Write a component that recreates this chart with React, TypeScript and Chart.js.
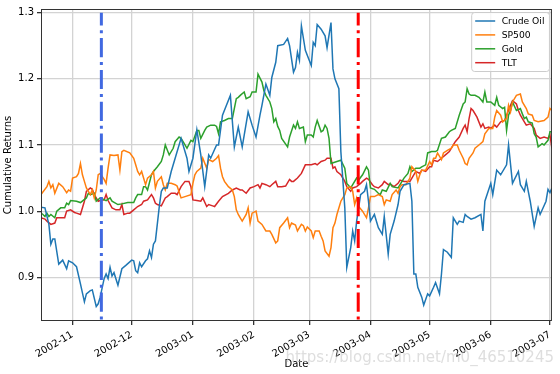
import React, { useEffect, useRef } from "react";
import { Chart, registerables } from "chart.js";

Chart.register(...registerables);

// x values are day offsets from 2002-11-01
const seriesNames = ["Crude Oil", "SP500", "Gold", "TLT"];
const seriesColors = ["#1f77b4", "#ff7f0e", "#2ca02c", "#d62728"];

const crudeOil: [number, number][] = [
  [-16,1.006],[-14,1.005],[-12,0.980],[-11,0.950],[-10,0.958],[-9,0.958],[-7,0.920],[-6,0.923],[-5,0.926],[-3,0.913],[-2,0.925],[0,0.922],[2,0.916],[4,0.890],[6,0.863],[7,0.875],[9,0.880],[10,0.881],[12,0.856],[13,0.860],[14,0.870],[16,0.898],[17,0.905],[18,0.898],[19,0.915],[20,0.902],[21,0.907],[23,0.888],[25,0.913],[27,0.918],[30,0.926],[31,0.925],[32,0.910],[33,0.907],[34,0.922],[35,0.916],[37,0.925],[38,0.928],[39,0.940],[40,0.930],[41,0.950],[42,0.955],[44,1.008],[45,1.030],[46,1.035],[48,1.035],[50,1.060],[52,1.080],[55,1.110],[58,1.080],[59,1.060],[61,1.080],[63,1.123],[65,1.085],[67,1.037],[69,1.085],[70,1.080],[73,1.100],[74,1.100],[76,1.145],[78,1.160],[80,1.175],[82,1.097],[84,1.127],[86,1.097],[89,1.150],[91,1.130],[93,1.112],[95,1.145],[96,1.160],[98,1.192],[100,1.175],[101,1.202],[103,1.225],[104,1.250],[107,1.252],[109,1.261],[110,1.250],[112,1.210],[113,1.217],[114,1.240],[115,1.228],[116,1.280],[118,1.243],[121,1.220],[122,1.255],[123,1.250],[124,1.282],[126,1.275],[128,1.265],[129,1.247],[131,1.285],[132,1.215],[133,1.200],[135,1.185],[136,1.090],[138,1.005],[139,0.915],[141,0.945],[142,0.970],[143,0.955],[144,0.985],[146,1.025],[148,1.030],[149,1.040],[150,1.015],[151,0.985],[153,0.995],[155,0.975],[157,0.965],[158,0.992],[160,0.935],[161,0.965],[163,0.985],[165,1.010],[166,1.030],[168,1.040],[171,1.042],[172,1.015],[173,0.905],[174,0.905],[175,0.885],[177,0.870],[178,0.858],[180,0.875],[181,0.872],[183,0.885],[184,0.892],[186,0.875],[187,0.905],[188,0.942],[190,0.938],[192,0.930],[193,0.990],[195,0.980],[196,0.985],[198,0.983],[199,0.995],[200,0.992],[202,0.988],[204,0.990],[207,0.995],[208,0.970],[209,1.015],[212,1.042],[213,1.025],[215,1.062],[217,1.055],[220,1.070],[221,1.100],[223,1.042],[226,1.060],[227,1.040],[229,1.030],[230,1.045],[232,1.015],[234,0.977],[236,1.005],[237,0.995],[240,1.015],[241,1.033],[242,1.028],[243,1.035]
];

const sp500: [number, number][] = [
  [-16,1.025],[-13,1.037],[-12,1.045],[-11,1.035],[-10,1.040],[-9,1.027],[-7,1.042],[-5,1.037],[-3,1.028],[-2,1.032],[-1,1.030],[0,1.050],[2,1.052],[3,1.057],[4,1.072],[5,1.055],[6,1.045],[7,1.035],[9,1.025],[10,1.032],[11,1.020],[12,1.032],[13,1.055],[14,1.057],[16,1.048],[17,1.042],[18,1.065],[19,1.085],[21,1.084],[23,1.085],[24,1.062],[25,1.090],[26,1.092],[29,1.088],[31,1.080],[32,1.070],[33,1.060],[34,1.055],[35,1.060],[36,1.050],[37,1.040],[38,1.050],[40,1.055],[41,1.060],[42,1.035],[43,1.045],[45,1.052],[46,1.040],[47,1.032],[48,1.042],[50,1.042],[52,1.040],[53,1.038],[55,1.020],[57,1.022],[60,1.025],[61,1.042],[62,1.055],[63,1.060],[65,1.065],[66,1.080],[68,1.065],[69,1.078],[71,1.075],[73,1.080],[74,1.084],[75,1.065],[76,1.052],[77,1.045],[79,1.037],[81,1.032],[82,1.022],[83,1.002],[84,0.995],[85,0.990],[86,0.985],[88,0.995],[89,1.005],[90,0.982],[91,0.997],[93,1.000],[94,0.985],[96,0.980],[98,0.970],[100,0.970],[101,0.965],[103,0.952],[104,0.955],[105,0.975],[107,0.982],[109,0.990],[110,0.975],[111,0.982],[113,0.979],[114,0.970],[115,0.975],[116,0.980],[117,0.978],[118,0.970],[119,0.976],[121,0.970],[122,0.960],[123,0.970],[125,0.970],[126,0.962],[127,0.955],[128,0.940],[130,0.932],[131,0.945],[132,0.975],[133,0.982],[134,0.995],[136,1.015],[138,1.025],[139,1.035],[141,1.037],[142,1.030],[143,1.010],[144,1.020],[145,1.007],[147,1.000],[149,0.990],[150,1.005],[151,1.022],[153,1.022],[155,1.025],[157,1.022],[158,1.010],[159,1.017],[161,1.015],[162,1.025],[164,1.032],[165,1.027],[166,1.037],[167,1.040],[169,1.040],[171,1.050],[172,1.067],[174,1.060],[175,1.045],[176,1.055],[177,1.062],[179,1.062],[181,1.075],[182,1.070],[183,1.080],[184,1.080],[185,1.088],[187,1.078],[188,1.088],[190,1.092],[192,1.095],[193,1.100],[195,1.100],[196,1.092],[198,1.080],[199,1.072],[200,1.070],[201,1.080],[203,1.088],[204,1.095],[206,1.100],[208,1.105],[209,1.117],[211,1.125],[213,1.125],[214,1.142],[215,1.152],[217,1.145],[218,1.135],[220,1.140],[221,1.160],[222,1.150],[223,1.165],[225,1.175],[227,1.177],[228,1.165],[230,1.155],[231,1.147],[233,1.145],[234,1.137],[236,1.135],[239,1.137],[241,1.142],[242,1.155],[243,1.152]
];

const gold: [number, number][] = [
  [-16,0.997],[-15,0.995],[-14,0.992],[-13,0.997],[-12,0.992],[-11,0.995],[-9,0.990],[-8,1.000],[-6,1.005],[-4,1.005],[-3,1.012],[-2,1.010],[-1,1.016],[2,1.015],[4,1.013],[7,1.020],[8,1.027],[9,1.025],[11,1.027],[12,1.015],[14,1.020],[17,1.016],[19,1.020],[20,1.015],[23,1.010],[25,1.011],[28,1.013],[31,1.013],[32,1.020],[33,1.025],[34,1.025],[35,1.025],[36,1.037],[37,1.037],[38,1.032],[40,1.055],[41,1.060],[43,1.067],[45,1.075],[46,1.085],[47,1.100],[49,1.085],[51,1.095],[52,1.105],[54,1.112],[55,1.110],[57,1.100],[58,1.095],[60,1.107],[61,1.105],[63,1.122],[64,1.122],[65,1.110],[67,1.122],[68,1.127],[70,1.130],[72,1.130],[73,1.128],[74,1.117],[75,1.135],[77,1.137],[79,1.140],[81,1.140],[83,1.170],[84,1.172],[85,1.175],[87,1.180],[88,1.170],[90,1.173],[91,1.180],[93,1.180],[94,1.207],[96,1.195],[97,1.182],[98,1.175],[100,1.165],[101,1.155],[102,1.135],[103,1.140],[104,1.128],[105,1.122],[106,1.110],[109,1.097],[110,1.112],[112,1.130],[113,1.125],[114,1.135],[115,1.125],[117,1.127],[118,1.105],[119,1.115],[121,1.115],[122,1.112],[123,1.127],[124,1.137],[126,1.120],[127,1.122],[128,1.130],[129,1.125],[130,1.110],[131,1.072],[134,1.075],[136,1.077],[138,1.065],[139,1.042],[141,1.035],[142,1.040],[144,1.050],[145,1.047],[147,1.055],[149,1.067],[150,1.062],[151,1.035],[153,1.033],[155,1.027],[156,1.025],[157,1.032],[159,1.030],[161,1.042],[162,1.037],[165,1.035],[166,1.040],[168,1.050],[170,1.057],[171,1.067],[172,1.060],[174,1.065],[176,1.065],[177,1.067],[179,1.070],[180,1.088],[182,1.090],[184,1.090],[185,1.092],[187,1.110],[189,1.112],[191,1.120],[192,1.122],[194,1.125],[196,1.145],[198,1.162],[199,1.165],[200,1.185],[201,1.177],[202,1.175],[204,1.175],[206,1.172],[208,1.165],[209,1.180],[210,1.165],[212,1.165],[214,1.160],[215,1.172],[216,1.160],[218,1.155],[219,1.157],[220,1.122],[221,1.145],[222,1.152],[223,1.165],[225,1.152],[227,1.155],[228,1.147],[229,1.140],[230,1.142],[231,1.135],[233,1.133],[234,1.117],[235,1.112],[236,1.097],[238,1.102],[239,1.100],[241,1.107],[242,1.120],[243,1.120]
];

const tlt: [number, number][] = [
  [-16,0.990],[-14,0.988],[-13,0.985],[-11,0.980],[-9,0.982],[-8,0.990],[-6,0.990],[-4,0.990],[-3,1.000],[-1,1.002],[1,0.998],[2,0.997],[4,0.995],[6,1.015],[7,1.030],[9,1.035],[10,1.033],[11,1.025],[13,1.015],[14,1.016],[16,1.017],[17,1.025],[18,1.016],[20,1.005],[22,1.002],[24,1.002],[25,1.010],[26,0.995],[28,0.997],[29,0.997],[31,1.002],[33,1.007],[35,1.010],[36,1.015],[38,1.017],[40,1.025],[41,1.020],[42,1.012],[43,1.010],[45,1.008],[47,1.020],[48,1.022],[50,1.027],[52,1.027],[53,1.025],[55,1.037],[57,1.045],[59,1.045],[60,1.037],[61,1.017],[63,1.016],[65,1.015],[66,1.020],[68,1.007],[69,1.010],[71,1.008],[72,1.007],[74,1.015],[76,1.022],[79,1.027],[81,1.032],[83,1.035],[85,1.032],[86,1.032],[88,1.027],[90,1.035],[92,1.037],[94,1.040],[95,1.035],[96,1.042],[98,1.040],[100,1.037],[101,1.040],[103,1.045],[104,1.037],[106,1.037],[108,1.038],[110,1.048],[111,1.045],[112,1.045],[114,1.050],[116,1.057],[118,1.070],[121,1.070],[123,1.072],[124,1.070],[126,1.075],[128,1.077],[129,1.080],[131,1.080],[132,1.065],[133,1.067],[134,1.060],[136,1.055],[138,1.045],[139,1.037],[141,1.030],[142,1.035],[144,1.037],[146,1.042],[147,1.045],[149,1.050],[150,1.048],[152,1.040],[153,1.037],[155,1.035],[157,1.040],[158,1.045],[160,1.040],[161,1.041],[163,1.037],[165,1.042],[166,1.047],[168,1.045],[171,1.045],[172,1.050],[174,1.060],[176,1.057],[177,1.062],[179,1.060],[181,1.067],[182,1.067],[183,1.077],[185,1.075],[187,1.080],[189,1.085],[191,1.090],[193,1.100],[194,1.105],[196,1.112],[198,1.125],[199,1.130],[200,1.120],[201,1.140],[202,1.155],[203,1.152],[205,1.142],[207,1.127],[208,1.132],[209,1.125],[211,1.127],[212,1.125],[214,1.130],[215,1.127],[217,1.135],[219,1.137],[220,1.145],[222,1.160],[223,1.167],[225,1.162],[226,1.152],[227,1.145],[229,1.135],[230,1.130],[232,1.132],[234,1.125],[235,1.115],[237,1.110],[239,1.112],[241,1.110],[242,1.115],[243,1.095]
];

const monthTickDays = [0, 30, 61, 92, 120, 151, 181, 212, 242];
const monthTickLabels = ["2002-11", "2002-12", "2003-01", "2003-02", "2003-03", "2003-04", "2003-05", "2003-06", "2003-07"];
const yTickValues = [0.9, 1.0, 1.1, 1.2, 1.3];
const xRange = [-16, 243];
const yRange = [0.834, 1.3055];

const eventDays = [14.6, 144.8];
const eventColors = ["#4169e1", "#ff0000"];
const eventSpan = [0.8, 1.3];

const watermark = "https://blog.csdn.net/m0_46510245";
const FONT = "'DejaVu Sans', sans-serif";

const overlayPlugin = {
  id: "overlay",
  afterDatasetsDraw(chart: any) {
    const { ctx, chartArea, scales } = chart;
    const xs = scales.x;
    const ys = scales.y;
    // vertical event lines
    ctx.save();
    ctx.beginPath();
    ctx.rect(chartArea.left, chartArea.top, chartArea.right - chartArea.left, chartArea.bottom - chartArea.top);
    ctx.clip();
    eventDays.forEach((d, i) => {
      const px = xs.getPixelForValue(d);
      ctx.beginPath();
      ctx.strokeStyle = eventColors[i];
      ctx.lineWidth = 3;
      ctx.setLineDash([19.2, 4.8, 3, 4.8]);
      ctx.moveTo(px, ys.getPixelForValue(eventSpan[0]));
      ctx.lineTo(px, ys.getPixelForValue(eventSpan[1]));
      ctx.stroke();
    });
    ctx.restore();

    // frame
    ctx.save();
    ctx.strokeStyle = "#333";
    ctx.lineWidth = 1;
    ctx.strokeRect(chartArea.left + 0.5, chartArea.top + 0.5, chartArea.right - chartArea.left - 1, chartArea.bottom - chartArea.top - 1);
    ctx.restore();

    // legend
    ctx.save();
    ctx.font = `9.2px ${FONT}`;
    const textW = Math.max(...seriesNames.map((n) => ctx.measureText(n).width));
    const boxW = 30 + textW + 5;
    const boxH = 59;
    const bx = chartArea.right - 2.5 - boxW;
    const by = chartArea.top + 3.5;
    const r = 3;
    ctx.beginPath();
    ctx.moveTo(bx + r, by);
    ctx.lineTo(bx + boxW - r, by);
    ctx.quadraticCurveTo(bx + boxW, by, bx + boxW, by + r);
    ctx.lineTo(bx + boxW, by + boxH - r);
    ctx.quadraticCurveTo(bx + boxW, by + boxH, bx + boxW - r, by + boxH);
    ctx.lineTo(bx + r, by + boxH);
    ctx.quadraticCurveTo(bx, by + boxH, bx, by + boxH - r);
    ctx.lineTo(bx, by + r);
    ctx.quadraticCurveTo(bx, by, bx + r, by);
    ctx.closePath();
    ctx.fillStyle = "rgba(255,255,255,0.8)";
    ctx.fill();
    ctx.strokeStyle = "#cccccc";
    ctx.lineWidth = 1;
    ctx.stroke();
    seriesNames.forEach((name, i) => {
      const cy = by + 8.5 + i * 13.9;
      ctx.beginPath();
      ctx.strokeStyle = seriesColors[i];
      ctx.lineWidth = 1.5;
      ctx.moveTo(bx + 3.5, cy);
      ctx.lineTo(bx + 23.5, cy);
      ctx.stroke();
      ctx.fillStyle = "#000";
      ctx.textBaseline = "middle";
      ctx.textAlign = "left";
      ctx.fillText(name, bx + 30, cy + 0.5);
    });
    ctx.restore();

    // watermark
    ctx.save();
    ctx.font = `15px ${FONT}`;
    ctx.textAlign = "right";
    ctx.textBaseline = "alphabetic";
    ctx.fillStyle = "rgba(200,200,200,0.6)";
    ctx.fillText(watermark, chart.width - 6, chart.height - 12);
    ctx.restore();
  },
};

export default function App() {
  const canvasRef = useRef<HTMLCanvasElement | null>(null);

  useEffect(() => {
    if (!canvasRef.current) return;
    const series = [crudeOil, sp500, gold, tlt];
    const chart = new Chart(canvasRef.current, {
      type: "line",
      data: {
        datasets: series.map((s, i) => ({
          label: seriesNames[i],
          data: s.map(([d, v]) => ({ x: d, y: v })),
          borderColor: seriesColors[i],
          backgroundColor: seriesColors[i],
          borderWidth: 1.5,
          pointRadius: 0,
          tension: 0,
          fill: false,
        })),
      },
      options: {
        responsive: false,
        animation: false,
        devicePixelRatio: 1,
        layout: { padding: { top: 7, right: 7, left: 0, bottom: 0 } },
        plugins: { legend: { display: false }, tooltip: { enabled: false } },
        scales: {
          x: {
            type: "linear",
            min: xRange[0],
            max: xRange[1],
            afterBuildTicks: (s: any) => {
              s.ticks = monthTickDays.map((v) => ({ value: v }));
            },
            afterFit: (s: any) => {
              s.height = 53;
            },
            ticks: {
              autoSkip: false,
              minRotation: 30,
              maxRotation: 30,
              padding: 4,
              color: "#000",
              font: { family: FONT, size: 10 },
              callback: (_v: any, i: number) => monthTickLabels[i],
            },
            grid: { color: "#d3d3d3", lineWidth: 1.3, tickColor: "#333", tickLength: 4 },
            border: { display: false },
            title: {
              display: true,
              text: "Date",
              color: "#000",
              font: { family: FONT, size: 10 },
              padding: { top: 0, bottom: 4 },
            },
          },
          y: {
            type: "linear",
            min: yRange[0],
            max: yRange[1],
            afterBuildTicks: (s: any) => {
              s.ticks = yTickValues.map((v) => ({ value: v }));
            },
            afterFit: (s: any) => {
              s.width = 41;
            },
            ticks: {
              padding: 3,
              color: "#000",
              font: { family: FONT, size: 10 },
              callback: (v: any) => Number(v).toFixed(1),
            },
            grid: { color: "#d3d3d3", lineWidth: 1.3, tickColor: "#333", tickLength: 4 },
            border: { display: false },
            title: {
              display: true,
              text: "Cumulative Returns",
              color: "#000",
              font: { family: FONT, size: 10 },
              padding: { top: 2, bottom: 0 },
            },
          },
        },
      },
      plugins: [overlayPlugin],
    } as any);
    return () => chart.destroy();
  }, []);

  return (
    <div style={{ position: "absolute", left: 0, top: 0, width: 560, height: 374, background: "#fff" }}>
      <canvas ref={canvasRef} width={560} height={374} style={{ display: "block" }} />
    </div>
  );
}
